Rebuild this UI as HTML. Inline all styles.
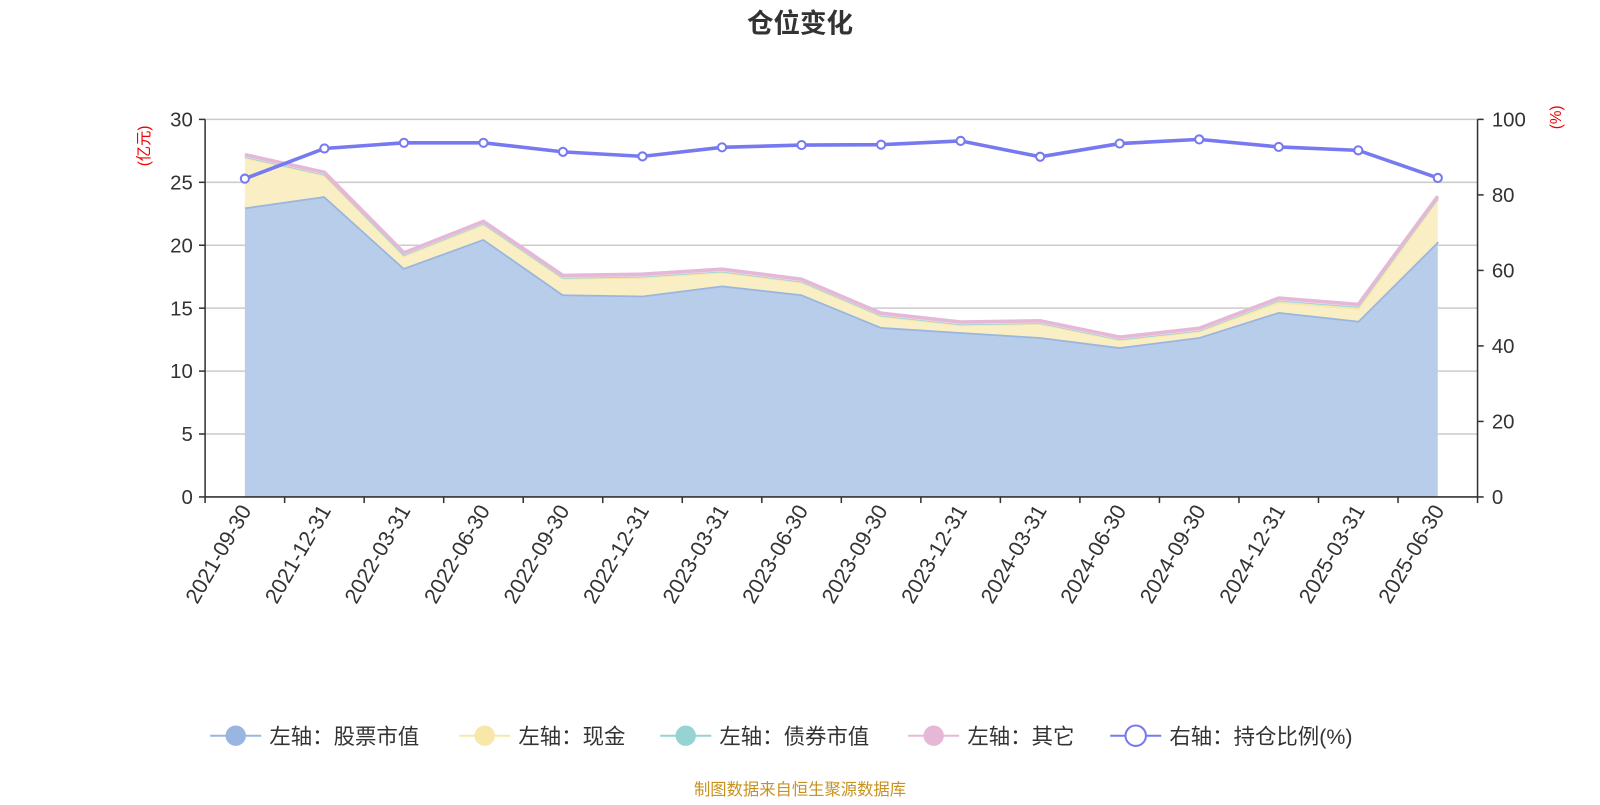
<!DOCTYPE html>
<html><head><meta charset="utf-8">
<style>
body{margin:0;background:#fff;width:1600px;height:800px;overflow:hidden;font-family:"Liberation Sans","Noto Sans CJK SC",sans-serif;}
</style></head>
<body>
<svg id="chart" width="1600" height="800" viewBox="0 0 1568 784" xmlns="http://www.w3.org/2000/svg" font-family="Liberation Sans, Noto Sans CJK SC, sans-serif">
<text x="784" y="32" text-anchor="middle" font-size="26" font-weight="bold" fill="#333">仓位变化</text>
<text transform="translate(146,143) rotate(-90)" text-anchor="middle" font-size="15" fill="#e00">(亿元)</text>
<text transform="translate(1530,115) rotate(-90)" text-anchor="middle" font-size="15" fill="#e00">(%)</text>
<g id="grid"></g><g id="areas"></g><g id="axes"></g><g id="ratio"></g>
<g id="legend"></g>
<text x="784" y="779" text-anchor="middle" font-size="16" fill="#c8921e">制图数据来自恒生聚源数据库</text>
</svg>
<script>
const categories=["2021-09-30","2021-12-31","2022-03-31","2022-06-30","2022-09-30","2022-12-31","2023-03-31","2023-06-30","2023-09-30","2023-12-31","2024-03-31","2024-06-30","2024-09-30","2024-12-31","2025-03-31","2025-06-30"];
const stockValues=[23.0,23.9,18.2,20.5,16.1,16.0,16.8,16.1,13.5,13.1,12.7,11.9,12.7,14.7,14.0,20.3];
const cashValues=[4.0,1.7,1.0,1.2,1.3,1.5,1.1,1.0,0.9,0.6,1.1,0.6,0.5,0.8,1.0,3.4];
const bondValues=[0,0,0,0,0,0,0,0,0,0,0,0,0,0.1,0.1,0];
const otherValues=[0.2,0.2,0.2,0.2,0.2,0.2,0.2,0.2,0.2,0.2,0.2,0.2,0.2,0.2,0.2,0.2];
const ratioValues=[84.3,92.3,93.8,93.8,91.4,90.2,92.6,93.2,93.3,94.3,90.1,93.6,94.7,92.7,91.8,84.5];
const leftTicks=[0,5,10,15,20,25,30];
const rightTicks=[0,20,40,60,80,100];
const NS="http://www.w3.org/2000/svg";
const X0=201,X1=1448,Y0=487,Y1=117;
const bw=(X1-X0)/categories.length;
const xs=i=>X0+bw*(i+0.5);
const yl=v=>Y0-(v/30)*(Y0-Y1);
const yr=v=>Y0-(v/100)*(Y0-Y1);
function mk(tag,attrs,parent){const e=document.createElementNS(NS,tag);for(const k in attrs)e.setAttribute(k,attrs[k]);parent.appendChild(e);return e;}
const grid=document.getElementById('grid'),axes=document.getElementById('axes'),areas=document.getElementById('areas'),ratio=document.getElementById('ratio'),legend=document.getElementById('legend');
leftTicks.forEach(t=>{
 if(t>0){const g=mk('line',{x1:X0,x2:X1,y1:yl(t),y2:yl(t),stroke:'#ccc','stroke-width':1.5},grid);
 
 }
 mk('line',{x1:X0-6,x2:X0,y1:yl(t),y2:yl(t),stroke:'#333','stroke-width':1.5},axes);
 const tx=mk('text',{x:X0-12,y:yl(t)+7,'text-anchor':'end','font-size':20,fill:'#333'},axes);tx.textContent=t;
 
 
});
rightTicks.forEach(t=>{
 mk('line',{x1:X1,x2:X1+6,y1:yr(t),y2:yr(t),stroke:'#333','stroke-width':1.5},axes);
 const tx=mk('text',{x:X1+14,y:yr(t)+7,'font-size':20,fill:'#333'},axes);tx.textContent=t;
 
 
});
mk('line',{x1:X0,x2:X0,y1:Y1,y2:Y0,stroke:'#333','stroke-width':1.5},axes);
mk('line',{x1:X1,x2:X1,y1:Y1,y2:Y0,stroke:'#333','stroke-width':1.5},axes);
mk('line',{x1:X0,x2:X1,y1:Y0,y2:Y0,stroke:'#333','stroke-width':1.5},axes);
for(let i=0;i<=categories.length;i++)mk('line',{x1:X0+bw*i,x2:X0+bw*i,y1:Y0,y2:Y0+6,stroke:'#333','stroke-width':1.5},axes);
categories.forEach((c,i)=>{
 const tx=mk('text',{transform:`translate(${xs(i)+7},${Y0+13}) rotate(-60)`,'text-anchor':'end','font-size':21,fill:'#333'},axes);tx.textContent=c;
 
 
});
const series=[{v:stockValues,fill:'#b8cdea',stroke:'#9ab6e0',name:'stock-area'},{v:cashValues,fill:'#faefc4',stroke:'#f7e7a8',name:'cash-area'},{v:bondValues,fill:'#c8e8e8',stroke:'#96d4d4',name:'bond-area'},{v:otherValues,fill:'#f2d6e8',stroke:'#e6b8d8',name:'other-area'}];
let base=categories.map(()=>0);
series.forEach(s=>{
 const top=base.map((b,i)=>b+s.v[i]);
 let d='M'+top.map((v,i)=>xs(i)+','+yl(v)).join(' L');
 for(let i=categories.length-1;i>=0;i--)d+=' L'+xs(i)+','+yl(base[i]);
 const p=mk('path',{d:d+'Z',fill:s.fill,stroke:'none'},areas);
 
 
 const l=mk('polyline',{points:top.map((v,i)=>xs(i)+','+yl(v)).join(' '),fill:'none',stroke:s.stroke,'stroke-width':s.name==='bond-area'?1.5:3.5},areas);
 
 
 base=top;
});
const rl=mk('polyline',{points:ratioValues.map((v,i)=>xs(i)+','+yr(v)).join(' '),fill:'none',stroke:'#7779f0','stroke-width':3.5},ratio);


ratioValues.forEach((v,i)=>{
 const c=mk('circle',{cx:xs(i),cy:yr(v),r:4,fill:'#fff',stroke:'#7779f0','stroke-width':2},ratio);
 
 
});
const leg=[{x:206,t:'左轴：股票市值',c:'#9ab6e0',f:'#9ab6e0'},{x:450,t:'左轴：现金',c:'#f7e7a8',f:'#f7e7a8'},{x:647,t:'左轴：债券市值',c:'#96d4d4',f:'#96d4d4'},{x:890,t:'左轴：其它',c:'#e6b8d8',f:'#e6b8d8'},{x:1088,t:'右轴：持仓比例(%)',c:'#7779f0',f:'#fff'}];
leg.forEach(L=>{
 const g=mk('g',{},legend);
 
 
 mk('line',{x1:L.x,x2:L.x+50,y1:721,y2:721,stroke:L.c,'stroke-width':2},g);
 mk('circle',{cx:L.x+25,cy:721,r:10,fill:L.f,stroke:L.f==='#fff'?L.c:'none','stroke-width':2},g);
 const t=mk('text',{x:L.x+58,y:729,'font-size':21,fill:'#333'},g);t.textContent=L.t;
});
</script>
</body></html>
